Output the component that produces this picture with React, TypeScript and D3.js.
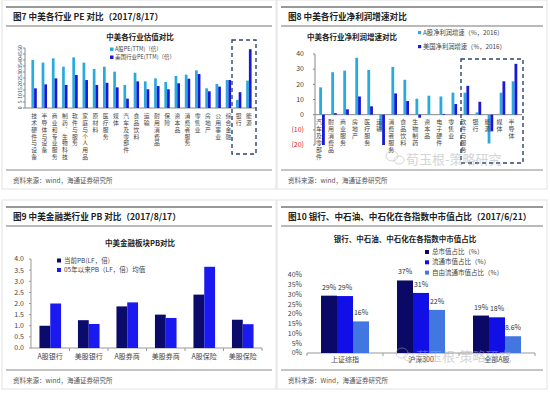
import * as d3 from "d3";

// 图7 中美各行业PE
const peCats = ["技术硬件与设备", "半导体与设备", "商业和专业服务", "制药、生物科技", "软件与服务", "家庭与个人用品", "原材料", "医疗服务", "媒体", "汽车及零部件", "食品饮料", "运输", "耐用消费品", "保险", "资本品", "消费者服务", "零售业", "房地产", "公用事业", "综合金融", "银行", "能源"];
const peA = [40, 37.8, 41.4, 34.4, 42.2, 37.8, 32.5, 34.4, 30.3, 19.2, 29.4, 22.2, 24.7, 21.7, 26.7, 27.8, 31.4, 16.4, 20, 23.3, 6.8, 22.8];
const peUS = [16.4, 19.7, 24.7, 19.2, 27.5, 23.3, 19.2, 21, 17.2, 7.8, 22.2, 15.6, 18.3, 15.6, 20.6, 24.4, 28.3, 13.9, 17.8, 23.3, 13.2, 49];
const peTicks = [0, 5, 10, 15, 20, 25, 30, 35, 40, 45, 50];

// 图8 净利润增速
const npCats = ["汽车及零部件", "耐用消费品", "商业服务", "房地产", "医疗服务", "运输", "消费者服务", "食品饮料", "生物制药", "资本品", "电子硬件", "零售业", "软件与服务", "银行", "能源", "媒体", "半导体"];
const npA = [18, 28, 29, 37.5, 29.5, -10, 31.5, 23, 10.5, 12.5, 12, 14.5, 14.5, 1.5, -19, 14.5, 22];
const npUS = [-20, 1, 3.5, 12, 5.5, -20, 14, 9, -2, 0, 0.5, 7, 19, 8.5, -11, 22, 33.5];
const npTicks = [-20, -10, 0, 10, 20, 30, 40];

// 图9 PB
const pbCats = ["A股银行", "美股银行", "A股券商", "美股券商", "A股保险", "美股保险"];
const pbNow = [1.0, 1.25, 1.87, 1.5, 2.4, 1.27];
const pbAvg = [2.0, 1.08, 2.05, 1.35, 3.65, 1.07];
const pbTicks = [0, 0.5, 1, 1.5, 2, 2.5, 3, 3.5, 4];

// 图10 市值占比
const mvCats = ["上证综指", "沪深300", "全部A股"];
const mvTotal = [29.4, 37.2, 19.2];
const mvFloat = [29.2, 30.8, 18.3];
const mvFree = [16.2, 22.1, 8.6];
const mvTicks = [0, 5, 10, 15, 20, 25, 30, 35, 40];

const FONT = "'Noto Sans CJK SC', 'Noto Sans', sans-serif";
const LIGHT = "#2aa9e0";
const DARK = "#1a1ad4";

// vertical category label, characters stacked top to bottom
function VText({ x, y, text, size = 5.8, gap = 1, fill = "#444" }: any) {
  return (
    <text x={x} y={y} fontSize={size} fill={fill} letterSpacing={gap} style={{ writingMode: "vertical-rl" } as any}>
      {text}
    </text>
  );
}

function Frame({ x0, x1, yTop, title, src }: any) {
  return (
    <g>
      <rect x={x0 - 4} y={yTop - 4} width={x1 - x0 + 8} height={189} fill="none" stroke="#e2e2e2" />
      <line x1={x0} x2={x1} y1={yTop + 3} y2={yTop + 3} stroke="#777" strokeWidth={1.5} />
      <line x1={x0} x2={x1} y1={yTop + 22} y2={yTop + 22} stroke="#777" strokeWidth={1.2} />
      <text x={x0 + 7} y={yTop + 16} fontSize={8.6} fontWeight="bold" fill="#222">{title}</text>
      <line x1={x0} x2={x1} y1={yTop + 166} y2={yTop + 166} stroke="#888" strokeWidth={1} />
      <text x={x0 + 7} y={yTop + 179} fontSize={6.5} fill="#555">{src}</text>
    </g>
  );
}

function Watermark({ x, y }: any) {
  return (
    <g opacity={0.5}>
      <ellipse cx={x} cy={y - 4} rx={6} ry={5} fill="none" stroke="#aaa" />
      <ellipse cx={x + 7} cy={y} rx={5} ry={4} fill="none" stroke="#aaa" />
      <text x={x + 14} y={y + 4} fontSize={13} fill="#aaa">荀玉根-策略研究</text>
    </g>
  );
}

function PanelPE() {
  const x = d3.scaleBand().domain(peCats).range([29, 254]);
  const y = d3.scaleLinear().domain([0, 50]).range([108, 48]);
  const bw = 2.7;
  return (
    <g>
      <text x={140} y={40} fontSize={7.5} fontWeight="bold" textAnchor="middle" fill="#222">中美各行业估值对比</text>
      <rect x={110} y={47.5} width={3.5} height={3.5} fill={LIGHT} />
      <text x={115} y={51} fontSize={5.5} fill="#444">A股PE(TTM)（倍）</text>
      <rect x={110} y={55.5} width={3.5} height={3.5} fill={DARK} />
      <text x={115} y={59} fontSize={5.5} fill="#444">美国行业PE(TTM)（倍）</text>
      <line x1={25} x2={25} y1={y(50)} y2={y(0)} stroke="#888" />
      <line x1={25} x2={256} y1={y(0)} y2={y(0)} stroke="#888" />
      {peTicks.map((t) => (
        <g key={t}>
          <line x1={23} x2={25} y1={y(t)} y2={y(t)} stroke="#888" />
          <text transform={`translate(21.5,${y(t)}) rotate(-90)`} fontSize={4.8} textAnchor="middle" fill="#444">{t}</text>
        </g>
      ))}
      {peCats.map((c, i) => {
        const cx = (x(c) as number) + x.bandwidth() / 2;
        return (
          <g key={c}>
            <rect x={cx - bw} y={y(peA[i])} width={bw} height={y(0) - y(peA[i])} fill={LIGHT} />
            <rect x={cx} y={y(peUS[i])} width={bw} height={y(0) - y(peUS[i])} fill={DARK} />
            <VText x={cx} y={113} text={c} />
          </g>
        );
      })}
      <rect x={232} y={40} width={24} height={114} fill="none" stroke="#2c4470" strokeWidth={1.4} strokeDasharray="4,3" />
    </g>
  );
}

function PanelNP() {
  const x = d3.scaleBand().domain(npCats).range([316, 520.5]);
  const y = d3.scaleLinear().domain([-20, 40]).range([145, 54]);
  const bw = 2.8;
  return (
    <g>
      <text x={352} y={40} fontSize={7.5} fontWeight="bold" textAnchor="middle" fill="#222">中美各行业净利润增速对比</text>
      <rect x={418} y={31} width={3.2} height={3.2} fill={LIGHT} />
      <text x={423} y={34.5} fontSize={6.3} fill="#444">A股净利润增速（%，2016）</text>
      <rect x={418} y={45} width={3.2} height={3.2} fill={DARK} />
      <text x={423} y={48.5} fontSize={6.3} fill="#444">美国净利润增速（%，2016）</text>
      <line x1={315} x2={315} y1={y(40)} y2={y(-20)} stroke="#888" />
      <line x1={315} x2={522} y1={y(0)} y2={y(0)} stroke="#888" />
      {npTicks.map((t) => (
        <g key={t}>
          <line x1={313} x2={315} y1={y(t)} y2={y(t)} stroke="#888" />
          <text x={304} y={y(t) + 2.3} fontSize={7} textAnchor="end" fill={t < 0 ? "#d02020" : "#444"}>{t < 0 ? `(${-t})` : t}</text>
        </g>
      ))}
      {npCats.map((c, i) => {
        const cx = (x(c) as number) + x.bandwidth() / 2;
        const ya = npA[i], yu = npUS[i];
        return (
          <g key={c}>
            <rect x={cx - bw} y={y(Math.max(0, ya))} width={bw} height={Math.abs(y(ya) - y(0))} fill={LIGHT} />
            <rect x={cx} y={y(Math.max(0, yu))} width={bw} height={Math.abs(y(yu) - y(0))} fill={DARK} />
            <VText x={cx - 3} y={119} text={c} size={6} />
          </g>
        );
      })}
      <rect x={461} y={59} width={62} height={104} fill="none" stroke="#2c4470" strokeWidth={1.4} strokeDasharray="4,3" />
      <Watermark x={392} y={160} />
    </g>
  );
}

function PanelPB() {
  const x = d3.scaleBand().domain(pbCats).range([31, 262]);
  const y = d3.scaleLinear().domain([0, 4]).range([348, 259]);
  const bw = 10.8;
  return (
    <g>
      <text x={140} y={246} fontSize={7.5} fontWeight="bold" textAnchor="middle" fill="#222">中美金融板块PB对比</text>
      <rect x={57} y={258.5} width={4} height={4} fill="#0b0b6b" />
      <text x={64} y={262.5} fontSize={6.5} fill="#444">当前PB(LF，倍)</text>
      <rect x={57} y={268} width={4} height={4} fill="#1a1af0" />
      <text x={64} y={272} fontSize={6.5} fill="#444">05年以来PB（LF，倍）均值</text>
      <line x1={31} x2={31} y1={y(4)} y2={y(0)} stroke="#999" />
      <line x1={31} x2={262} y1={y(0)} y2={y(0)} stroke="#999" />
      {pbTicks.map((t) => (
        <g key={t}>
          <line x1={29} x2={31} y1={y(t)} y2={y(t)} stroke="#999" />
          <text x={24} y={y(t) + 2.4} fontSize={7} textAnchor="end" fill="#444">{d3.format(".1f")(t)}</text>
        </g>
      ))}
      {pbCats.map((c, i) => {
        const cx = (x(c) as number) + x.bandwidth() / 2;
        return (
          <g key={c}>
            <line x1={x(c)! + x.bandwidth()} x2={x(c)! + x.bandwidth()} y1={y(0)} y2={y(0) + 3} stroke="#999" />
            <rect x={cx - bw} y={y(pbNow[i])} width={bw} height={y(0) - y(pbNow[i])} fill="#0b0b6b" />
            <rect x={cx} y={y(pbAvg[i])} width={bw} height={y(0) - y(pbAvg[i])} fill="#1a1af0" />
            <text x={cx} y={359} fontSize={7} textAnchor="middle" fill="#444">{c}</text>
          </g>
        );
      })}
    </g>
  );
}

function PanelMV() {
  const x = d3.scaleBand().domain(mvCats).range([307, 535]);
  const y = d3.scaleLinear().domain([0, 40]).range([353, 275]);
  const bw = 16;
  const series = [
    { vals: mvTotal, color: "#0a0a66", name: "总市值占比（%）" },
    { vals: mvFloat, color: "#1010e6", name: "流通市值占比（%）" },
    { vals: mvFree, color: "#4277e2", name: "自由流通市值占比（%）" },
  ];
  const fmt = (v: number) => (v < 10 ? d3.format(".1f")(v) : d3.format(".0f")(v)) + "%";
  return (
    <g>
      <text x={405} y={242} fontSize={7.5} fontWeight="bold" textAnchor="middle" fill="#222">银行、中石油、中石化在各指数中市值占比</text>
      {series.map((s, k) => (
        <g key={s.name}>
          <rect x={425} y={250 + k * 10.3} width={4} height={4} fill={s.color} />
          <text x={432} y={254 + k * 10.3} fontSize={6.5} fill="#444">{s.name}</text>
        </g>
      ))}
      <line x1={307} x2={535} y1={y(0)} y2={y(0)} stroke="#999" />
      {mvTicks.map((t) => (
        <text key={t} x={302} y={y(t) + 2.4} fontSize={7} textAnchor="end" fill="#444">{t}%</text>
      ))}
      {mvCats.map((c, i) => {
        const cx = (x(c) as number) + x.bandwidth() / 2;
        return (
          <g key={c}>
            <line x1={x(c)!} x2={x(c)!} y1={y(0)} y2={y(0) + 3} stroke="#999" />
            {series.map((s, k) => {
              const bx = cx - 1.5 * bw + k * bw;
              const v = s.vals[i];
              return (
                <g key={k}>
                  <rect x={bx} y={y(v)} width={bw} height={y(0) - y(v)} fill={s.color} />
                  <text x={bx + bw / 2} y={y(v) - 6} fontSize={7} textAnchor="middle" fill="#333">{fmt(v)}</text>
                </g>
              );
            })}
            <text x={cx} y={362} fontSize={7} textAnchor="middle" fill="#444">{c}</text>
          </g>
        );
      })}
      <line x1={535} x2={535} y1={y(0)} y2={y(0) + 3} stroke="#999" />
      <Watermark x={402} y={357} />
    </g>
  );
}

export default function App() {
  return (
    <svg width={550} height={395} style={{ position: "absolute", left: 0, top: 0, background: "#fff" }} fontFamily={FONT}>
      <rect width={550} height={395} fill="#fff" />
      <Frame x0={6} x1={272} yTop={4} title="图7  中美各行业 PE 对比（2017/8/17）" src="资料来源：wind，海通证券研究所" />
      <Frame x0={281} x1={543} yTop={4} title="图8  中美各行业净利润增速对比" src="资料来源：wind，海通证券研究所" />
      <Frame x0={6} x1={272} yTop={204} title="图9  中美金融类行业 PB 对比（2017/8/17）" src="资料来源：wind，海通证券研究所" />
      <Frame x0={281} x1={543} yTop={204} title="图10 银行、中石油、中石化在各指数中市值占比（2017/6/21）" src="资料来源：Wind，海通证券研究所" />
      <PanelPE />
      <PanelNP />
      <PanelPB />
      <PanelMV />
    </svg>
  );
}
